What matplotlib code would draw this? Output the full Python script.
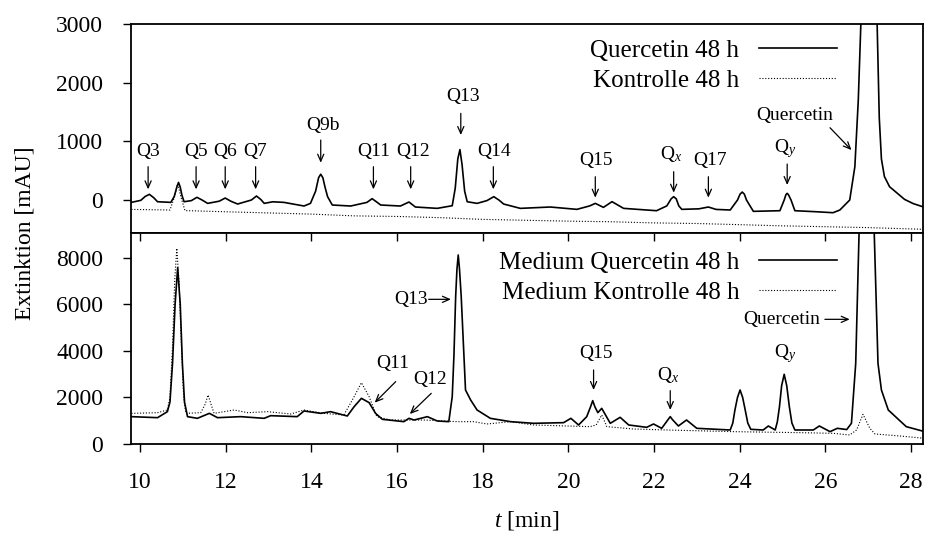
import matplotlib
matplotlib.use("Agg")
import matplotlib.pyplot as plt

plt.rcParams['font.family'] = ['Liberation Serif', 'DejaVu Serif']
plt.rcParams['mathtext.fontset'] = 'custom'
plt.rcParams['mathtext.rm'] = 'Liberation Serif'
plt.rcParams['mathtext.it'] = 'Liberation Serif:italic'

# retention time [min] and absorbance [mAU], cell extracts after 48 h
t_cell_q = [9.80, 10.02, 10.12, 10.22, 10.32, 10.41, 10.72, 10.80, 10.86, 10.90, 10.94, 10.98,
            11.03, 11.20, 11.33, 11.45, 11.58, 11.85, 11.99, 12.12, 12.28, 12.60, 12.72, 12.82,
            12.90, 13.10, 13.36, 13.83, 13.98, 14.10, 14.17, 14.22, 14.27, 14.32, 14.38, 14.49,
            14.92, 15.30, 15.42, 15.52, 15.62, 16.08, 16.28, 16.43, 16.94, 17.29, 17.36, 17.42,
            17.47, 17.52, 17.58, 17.64, 17.87, 18.10, 18.26, 18.38, 18.49, 18.88, 19.58, 20.20,
            20.50, 20.63, 20.82, 21.02, 21.29, 22.06, 22.30, 22.40, 22.46, 22.52, 22.58, 22.65,
            23.05, 23.27, 23.45, 23.78, 23.95, 24.01, 24.06, 24.11, 24.16, 24.32, 24.94, 25.04,
            25.08, 25.11, 25.14, 25.20, 25.29, 25.80, 26.18, 26.34, 26.57, 26.69, 26.77, 26.83,
            27.02, 27.21, 27.26, 27.31, 27.38, 27.50, 27.85, 28.05, 28.32]
a_cell_q = [-40, -5, 60, 97, 40, -29, -40, 60, 220, 300, 220, 80,
            -29, -10, 46, 0, -57, -20, 34, -20, -68, 0, 68, 10,
            -57, -30, -40, -102, -57, 150, 380, 440, 380, 220, 57, -85,
            -102, -40, 23, -30, -85, -102, -34, -119, -142, -97, 200, 700,
            860, 600, 150, -29, -57, -10, 57, 0, -68, -142, -119, -159,
            -100, -57, -125, -28, -142, -182, -100, 20, 57, 20, -100, -159,
            -150, -119, -160, -170, 0, 100, 136, 100, 0, -193, -182, 0,
            90, 114, 90, 0, -182, -200, -216, -170, 0, 568, 1704, 3000,
            12000, 3000, 1400, 700, 400, 227, 11, -60, -125]

t_cell_k = [9.80, 10.70, 10.80, 10.88, 10.96, 11.05, 12.0, 13.0, 14.0, 15.0, 16.0, 17.0,
            18.0, 19.0, 20.0, 21.0, 22.0, 23.0, 24.0, 25.0, 26.0, 27.0, 28.32]
a_cell_k = [-160, -170, 40, 280, 40, -180, -200, -220, -240, -270, -280, -300,
            -330, -345, -360, -370, -390, -400, -420, -440, -455, -470, -500]

# culture medium after 48 h
t_med_q = [9.80, 10.41, 10.64, 10.70, 10.76, 10.82, 10.88, 10.94, 10.99, 11.04, 11.11, 11.34,
           11.62, 11.81, 12.35, 12.90, 13.05, 13.67, 13.83, 14.22, 14.45, 14.84, 15.00, 15.17,
           15.35, 15.50, 15.66, 16.16, 16.28, 16.40, 16.71, 16.94, 17.21, 17.29, 17.33, 17.37,
           17.40, 17.43, 17.46, 17.50, 17.60, 17.72, 17.87, 18.18, 18.65, 19.19, 19.89, 20.06,
           20.24, 20.43, 20.52, 20.57, 20.62, 20.69, 20.78, 20.98, 21.21, 21.41, 21.83, 21.99,
           22.18, 22.33, 22.38, 22.43, 22.57, 22.76, 23.00, 23.78, 23.84, 23.89, 23.95, 24.01,
           24.07, 24.13, 24.19, 24.26, 24.55, 24.67, 24.83, 24.88, 24.93, 24.98, 25.04, 25.10,
           25.16, 25.22, 25.29, 25.72, 25.86, 26.11, 26.28, 26.50, 26.61, 26.71, 26.79, 26.97,
           27.14, 27.23, 27.31, 27.47, 27.89, 28.32]
a_med_q = [1174, 1130, 1388, 1800, 3463, 6000, 7572, 6000, 3463, 1800, 1174, 1102,
           1316, 1130, 1174, 1102, 1216, 1174, 1417, 1316, 1388, 1202, 1603, 1961,
           1775, 1316, 1059, 959, 1102, 1030, 1174, 988, 959, 2032, 3800, 6326,
           7500, 8116, 7500, 6326, 2319, 1889, 1460, 1102, 959, 888, 916, 1102,
           816, 1174, 1600, 1861, 1600, 1345, 1531, 888, 1145, 816, 716, 859,
           673, 1050, 1174, 1050, 773, 1030, 673, 601, 900, 1460, 2000, 2319,
           2000, 1460, 900, 630, 601, 773, 601, 950, 1603, 2500, 2992, 2500,
           1603, 900, 601, 601, 773, 530, 673, 620, 888, 3463, 9200, 40000,
           9200, 3463, 2319, 1460, 745, 530]

t_med_k = [9.80, 10.41, 10.64, 10.70, 10.76, 10.81, 10.86, 10.91, 10.97, 11.02, 11.07, 11.42,
           11.52, 11.59, 11.66, 11.73, 12.20, 12.51, 12.98, 13.52, 13.83, 14.29, 14.76, 15.00,
           15.17, 15.35, 15.53, 15.85, 16.63, 17.40, 17.79, 18.10, 18.65, 19.19, 19.97, 20.51,
           20.65, 20.78, 20.90, 21.52, 22.30, 23.85, 25.41, 26.18, 26.57, 26.73, 26.88, 27.04,
           27.16, 27.74, 28.32]
a_med_k = [1316, 1345, 1460, 2000, 4178, 7000, 8402, 7000, 4178, 2000, 1316, 1345,
           1700, 2104, 1700, 1316, 1460, 1345, 1388, 1288, 1460, 1316, 1245, 2032,
           2634, 2032, 1174, 1030, 1030, 959, 959, 859, 959, 816, 773, 745,
           816, 1245, 745, 644, 601, 530, 487, 458, 387, 601, 1274, 673,
           430, 344, 243]

# (label, text x, text y, arrow tail, arrow tip)
labels_top = [
    ('Q3', 10.19, 823, (10.19, 568), (10.19, 182)),
    ('Q5', 11.31, 823, (11.31, 568), (11.31, 182)),
    ('Q6', 11.99, 823, (11.99, 568), (11.99, 182)),
    ('Q7', 12.70, 823, (12.70, 568), (12.70, 182)),
    ('Q9b', 14.27, 1266, (14.22, 1022), (14.22, 636)),
    ('Q11', 15.45, 823, (15.45, 568), (15.45, 182)),
    ('Q12', 16.38, 823, (16.32, 568), (16.32, 182)),
    ('Q13', 17.54, 1761, (17.49, 1477), (17.49, 1108)),
    ('Q14', 18.26, 823, (18.25, 568), (18.25, 182)),
    ('Q15', 20.65, 682, (20.63, 397), (20.63, 40)),
    ('Q$_x$', 22.41, 784, (22.46, 483), (22.46, 125)),
    ('Q17', 23.30, 682, (23.27, 397), (23.27, 40)),
    ('Q$_y$', 25.06, 881, (25.11, 613), (25.11, 256)),
    ('Quercetin', 25.29, 1448, (26.11, 1232), (26.61, 852)),
]
labels_bottom = [
    ('Q11', 15.89, 3463, (15.97, 2677), (15.48, 1775)),
    ('Q12', 16.78, 2777, (16.80, 2175), (16.30, 1288)),
    ('Q13', 16.33, 6212, (16.74, 6212), (17.26, 6212)),
    ('Q15', 20.65, 3893, (20.59, 3178), (20.59, 2319)),
    ('Q$_x$', 22.34, 2963, (22.38, 2290), (22.38, 1460)),
    ('Q$_y$', 25.06, 3893, None, None),
    ('Quercetin', 24.98, 5353, (25.99, 5353), (26.57, 5353)),
]

dotted = (0, (1, 1.6))


def style_axis(ax):
    for s in ax.spines.values():
        s.set_linewidth(1.3)
    ax.set_xlim(9.79, 28.28)
    ax.tick_params(axis='y', direction='out', length=6, width=1, labelsize=17, pad=14,
                   right=False)


def annotate(ax, labels):
    for text, tx, ty, tail, tip in labels:
        ax.text(tx, ty, text, ha='center', va='center', fontsize=14)
        if tail is not None:
            ax.annotate('', xy=tip, xytext=tail,
                        arrowprops=dict(arrowstyle='->,head_length=0.5,head_width=0.22',
                                        lw=0.9, color='black', shrinkA=0, shrinkB=0))


def add_legend(ax, y):
    ax.legend(loc='upper right', bbox_to_anchor=(0.891, y), frameon=False, markerfirst=False,
              fontsize=18, handlelength=3.1, handletextpad=0.8, labelspacing=0.3,
              borderpad=0, borderaxespad=0)


fig = plt.figure(figsize=(9.25, 5.37), dpi=100)
ax1 = fig.add_axes([0.1416, 0.5661, 0.8562, 0.3892])
ax2 = fig.add_axes([0.1416, 0.1732, 0.8562, 0.3929])

ax1.plot(t_cell_q, a_cell_q, color='black', lw=1.2, label='Quercetin 48 h')
ax1.plot(t_cell_k, a_cell_k, color='black', lw=0.8, ls=dotted, label='Kontrolle 48 h')
style_axis(ax1)
ax1.set_ylim(-562, 3000)
ax1.set_yticks([0, 1000, 2000, 3000])
ax1.tick_params(axis='x', bottom=False, top=False, labelbottom=False)
annotate(ax1, labels_top)
add_legend(ax1, 0.925)

ax2.plot(t_med_q, a_med_q, color='black', lw=1.2, label='Medium Quercetin 48 h')
ax2.plot(t_med_k, a_med_k, color='black', lw=0.8, ls=dotted, label='Medium Kontrolle 48 h')
style_axis(ax2)
ax2.set_ylim(0, 9060)
ax2.set_yticks([0, 2000, 4000, 6000, 8000])
ax2.set_xticks(range(10, 29, 2))
ax2.tick_params(axis='x', direction='out', length=6, width=1, labelsize=17, pad=14, top=True)
annotate(ax2, labels_bottom)
add_legend(ax2, 0.912)
ax2.set_xlabel('$t$ [min]', fontsize=17, labelpad=12)

# top ticks of the lower panel point inwards, bottom ticks outwards
for tick in ax2.xaxis.get_major_ticks():
    tick.tick2line.set_marker(3)
    tick.tick2line.set_markersize(6)

fig.text(0.027, 0.566, 'Extinktion [mAU]', rotation=90, ha='center', va='center', fontsize=17)

plt.savefig('out.png', dpi=100)
